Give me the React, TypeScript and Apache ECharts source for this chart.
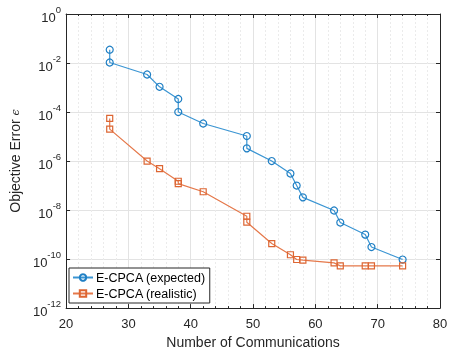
import React, { useEffect, useRef } from "react";
import * as echarts from "echarts";

const commsExpected = [27, 27, 33, 35, 38, 38, 42, 49, 49, 53, 56, 57, 58, 63, 64, 68, 69, 74];
const errorExpected = [3.5e-2, 1.05e-2, 3.4e-3, 1.07e-3, 3.4e-4, 1.0e-4, 3.4e-5, 1.05e-5, 3.3e-6, 1.0e-6, 3.1e-7, 1.0e-7, 3.3e-8, 9.6e-9, 3.1e-9, 1.0e-9, 3.1e-10, 9.6e-11];
const commsRealistic = [27, 27, 33, 35, 38, 38, 42, 49, 49, 53, 56, 57, 58, 63, 64, 68, 69, 74];
const errorRealistic = [5.5e-5, 2.0e-5, 1.0e-6, 4.9e-7, 1.5e-7, 1.2e-7, 5.6e-8, 5.6e-9, 3.2e-9, 4.3e-10, 1.5e-10, 9.6e-11, 9.0e-11, 7.0e-11, 5.3e-11, 5.3e-11, 5.3e-11, 5.3e-11];
const seriesNames = ["E-CPCA (expected)", "E-CPCA (realistic)"];
const xTicks = [20, 30, 40, 50, 60, 70, 80];
const yExponents = [-12, -10, -8, -6, -4, -2, 0];

const FONT = "Liberation Sans, Arial, Helvetica, sans-serif";
const TXT = "#262626";
const BLUE = "#3a95d3";
const RED = "#e5784a";

export default function App() {
  const ref = useRef<HTMLDivElement>(null);
  useEffect(() => {
    if (!ref.current) return;
    const chart = echarts.init(ref.current, undefined, { renderer: "svg" });
    const supLabel = (v: number) => {
      const e = Math.round(Math.log10(v));
      return `{b|10}{s|${e}}`;
    };
    const xBase = {
      type: "value" as const,
      min: xTicks[0],
      max: xTicks[xTicks.length - 1],
      interval: 10,
      axisLine: { show: true, onZero: false, lineStyle: { color: TXT, width: 1 } },
      axisTick: { show: true, inside: true, length: 4, lineStyle: { color: TXT } },
    };
    const yBase = {
      type: "log" as const,
      logBase: 10,
      min: Math.pow(10, yExponents[0]),
      max: Math.pow(10, yExponents[yExponents.length - 1]),
      interval: 2,
      axisLine: { show: true, onZero: false, lineStyle: { color: TXT, width: 1 } },
      axisTick: { show: true, inside: true, length: 4, lineStyle: { color: TXT } },
    };
    chart.setOption({
      animation: false,
      textStyle: { fontFamily: FONT },
      grid: { left: 61, right: 11, top: 14, bottom: 40, show: true, backgroundColor: "#fff", borderWidth: 0 },
      legend: {
        data: seriesNames,
        orient: "vertical",
        left: 69,
        top: 268,
        backgroundColor: "#fff",
        borderColor: TXT,
        borderWidth: 1,
        borderRadius: 0,
        padding: [3, 4, 3, 3],
        itemGap: 3,
        itemWidth: 20,
        itemHeight: 8,
        textStyle: { fontSize: 12.5, color: "#000", fontFamily: FONT, padding: [0, 0, 0, -2] },
      },
      xAxis: [
        {
          ...xBase,
          position: "bottom",
          name: "Number of Communications",
          nameLocation: "middle",
          nameGap: 26,
          nameTextStyle: { fontSize: 14, color: TXT, fontFamily: FONT },
          axisLabel: { fontSize: 13, color: TXT, margin: 9, fontFamily: FONT },
          splitLine: { show: true, lineStyle: { color: "#e3e3e3", width: 1 } },
          minorTick: { show: true, splitNumber: 5, length: 2, lineStyle: { color: TXT } },
          minorSplitLine: { show: true, lineStyle: { color: "#ebebeb", type: [2, 2], width: 1 } },
        },
        {
          ...xBase,
          position: "top",
          axisLabel: { show: false },
          splitLine: { show: false },
          minorTick: { show: true, splitNumber: 5, length: 2, lineStyle: { color: TXT } },
        },
      ],
      yAxis: [
        {
          ...yBase,
          position: "left",
          name: "Objective Error {e|ϵ}",
          nameLocation: "middle",
          nameRotate: 90,
          nameGap: 40,
          nameTextStyle: {
            fontSize: 14,
            color: TXT,
            fontFamily: FONT,
            rich: { e: { fontSize: 11, color: TXT, fontFamily: "DejaVu Serif", fontStyle: "italic" } },
          },
          axisLabel: {
            color: TXT,
            margin: 5,
            formatter: supLabel,
            rich: {
              b: { fontSize: 13, color: TXT, fontFamily: FONT, verticalAlign: "bottom", lineHeight: 19 },
              s: { fontSize: 9.5, color: TXT, fontFamily: FONT, verticalAlign: "top", lineHeight: 19 },
            },
          },
          splitLine: { show: true, lineStyle: { color: "#e3e3e3", width: 1 } },
        },
        {
          ...yBase,
          position: "right",
          axisLabel: { show: false },
          splitLine: { show: false },
        },
      ],
      series: [
        {
          name: seriesNames[0],
          type: "line",
          data: commsExpected.map((x, i) => [x, errorExpected[i]]),
          symbol: "circle",
          symbolSize: 7,
          showAllSymbol: true,
          lineStyle: { color: BLUE, width: 1.2 },
          itemStyle: { color: "rgba(255,255,255,0)", borderColor: "#1f7fc4", borderWidth: 1.2 },
          z: 3,
        },
        {
          name: seriesNames[1],
          type: "line",
          data: commsRealistic.map((x, i) => [x, errorRealistic[i]]),
          symbol: "rect",
          symbolSize: 6,
          showAllSymbol: true,
          lineStyle: { color: RED, width: 1.2 },
          itemStyle: { color: "rgba(255,255,255,0)", borderColor: "#dd6633", borderWidth: 1.2 },
          z: 3,
        },
      ],
    });
    return () => chart.dispose();
  }, []);
  return <div ref={ref} style={{ position: "fixed", left: 0, top: 0, width: 451, height: 354 }} />;
}
